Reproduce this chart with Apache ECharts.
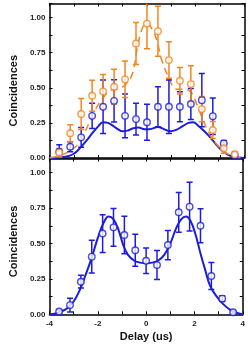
<!DOCTYPE html>
<html><head><meta charset="utf-8">
<script src="https://cdn.jsdelivr.net/npm/echarts@6/dist/echarts.min.js"></script>
<style>html,body{margin:0;padding:0;background:#fff}#c{width:248px;height:346px}</style>
</head><body><div id="c"></div>
<script>
// ---- data ----
const delays = [-3.6,-3.15,-2.7,-2.25,-1.8,-1.35,-0.9,-0.45,0,0.45,0.9,1.35,1.8,2.25,2.7,3.15,3.6];
const topOrange    = [0.038,0.176,0.313,0.443,0.474,0.507,0.56,0.815,0.957,0.903,0.697,0.55,0.526,0.348,0.199,0.069,0.026];
const topOrangeErr = [0.03,0.06,0.11,0.11,0.12,0.125,0.13,0.15,0.18,0.178,0.13,0.095,0.13,0.09,0.06,0.035,0.02];
const topBlue      = [0.045,0.08,0.147,0.30,0.365,0.407,0.30,0.277,0.254,0.365,0.365,0.365,0.384,0.412,0.298,0.104,0.02];
const topBlueErr   = [0.05,0.035,0.07,0.09,0.19,0.15,0.155,0.113,0.128,0.142,0.19,0.107,0.11,0.19,0.13,0.02,0.01];
const botBlue      = [0.02,0.065,0.23,0.407,0.57,0.614,0.56,0.452,0.378,0.348,0.489,0.72,0.76,0.625,0.27,0.111,0.014];
const botBlueErr   = [0.01,0.048,0.045,0.115,0.133,0.133,0.133,0.113,0.09,0.103,0.103,0.14,0.172,0.12,0.095,0.02,0.008];

const topBlueFitX = [-4,-3.5,-3.25,-3,-2.75,-2.5,-2.25,-2,-1.8,-1.6,-1.4,-1.2,-1,-0.8,-0.6,-0.35,-0.1,0.1,0.45,0.7,0.95,1.2,1.45,1.7,1.9,2.1,2.3,2.5,2.7,2.9,3.1,3.3,3.5,3.75,4];
const topBlueFitY = [0,0.005,0.012,0.03,0.07,0.12,0.175,0.225,0.255,0.25,0.23,0.205,0.19,0.195,0.21,0.218,0.205,0.205,0.22,0.205,0.19,0.2,0.225,0.25,0.255,0.23,0.2,0.165,0.125,0.085,0.05,0.025,0.01,0.003,0];
const topOrangeFitX = [-4,-3.5,-3,-2.7,-2.4,-2.1,-1.8,-1.5,-1.2,-0.9,-0.6,-0.4,-0.2,0,0.2,0.4,0.6,0.9,1.2,1.5,1.8,2.05,2.3,2.6,2.95,3.3,3.7,4];
const topOrangeFitY = [0,0.02,0.07,0.13,0.24,0.35,0.43,0.48,0.49,0.52,0.6,0.78,0.92,0.96,0.92,0.84,0.7,0.57,0.49,0.49,0.47,0.38,0.27,0.16,0.08,0.03,0.005,0];
const botFitX = [-4,-3.75,-3.5,-3.25,-3,-2.75,-2.5,-2.25,-2,-1.75,-1.55,-1.35,-1.15,-0.95,-0.75,-0.5,-0.25,0,0.25,0.5,0.75,1,1.25,1.45,1.65,1.85,2.05,2.25,2.45,2.65,2.9,3.2,3.5,3.8,4];
const botFitY = [0,0.005,0.02,0.045,0.09,0.17,0.28,0.40,0.54,0.65,0.69,0.67,0.6,0.49,0.42,0.38,0.365,0.36,0.365,0.38,0.42,0.5,0.61,0.67,0.69,0.655,0.56,0.43,0.31,0.2,0.13,0.07,0.03,0.008,0];

const xTickLabels = [-4,-2,0,2,4];
const yTickLabels = [0,0.25,0.5,0.75,1];

// ---- styling ----
const BLUE = '#1c1cdc', ORANGE = '#f5851f';
const FONT = 'Liberation Sans';
const pairs = (xs, ys) => xs.map((x, i) => [x, ys[i]]);
const errs = (xs, ys, es) => xs.map((x, i) => [x, ys[i] - es[i], ys[i] + es[i]]);

function errSeries(data, color, xi, yi) {
  return {
    type: 'custom', xAxisIndex: xi, yAxisIndex: yi, clip: true, z: 3,
    data: data,
    renderItem: function (params, api) {
      const x = api.value(0), lo = api.value(1), hi = api.value(2);
      const p1 = api.coord([x, lo]), p2 = api.coord([x, hi]);
      const w = 3;
      const st = { stroke: color, lineWidth: 1.5 };
      return { type: 'group', children: [
        { type: 'line', shape: { x1: p1[0], y1: p1[1], x2: p2[0], y2: p2[1] }, style: st },
        { type: 'line', shape: { x1: p1[0] - w, y1: p1[1], x2: p1[0] + w, y2: p1[1] }, style: st },
        { type: 'line', shape: { x1: p2[0] - w, y1: p2[1], x2: p2[0] + w, y2: p2[1] }, style: st }
      ]};
    }
  };
}
function ptSeries(data, color, xi, yi) {
  return { type: 'scatter', xAxisIndex: xi, yAxisIndex: yi, data: data, symbol: 'circle', symbolSize: 6.5, z: 4,
    itemStyle: { color: '#fff', borderColor: color, borderWidth: 1.4 } };
}
function fitSeries(data, color, xi, yi, dashed) {
  return { type: 'line', xAxisIndex: xi, yAxisIndex: yi, data: data, smooth: 0.4, showSymbol: false, z: 2,
    lineStyle: { color: color, width: dashed ? 1.5 : 2, type: dashed ? [7, 5] : 'solid' } };
}

const axLine = { show: true, onZero: false, lineStyle: { color: '#000', width: 1.5 } };
const axTick = { show: true, inside: true, length: 3, lineStyle: { color: '#000', width: 1 } };
const lblStyle = { fontSize: 8, fontWeight: 'bold', color: '#222', fontFamily: FONT, margin: 4 };

function xAx(grid, pos, labels) {
  return { type: 'value', gridIndex: grid, position: pos, min: -4, max: 4, interval: 1,
    axisLine: axLine, axisTick: axTick, splitLine: { show: false },
    axisLabel: labels ? Object.assign({}, lblStyle, { margin: 5,
      formatter: v => xTickLabels.indexOf(v) >= 0 ? String(v) : '' }) : { show: false },
    name: labels ? 'Delay (us)' : '', nameLocation: 'middle', nameGap: 17,
    nameTextStyle: { fontSize: 11, fontWeight: 'bold', color: '#111', fontFamily: FONT } };
}
function yAx(grid, pos, labels, shift) {
  return { type: 'value', gridIndex: grid, position: pos, min: 0, max: 1.1, interval: 0.125,
    axisLine: axLine, axisTick: axTick, splitLine: { show: false },
    axisLabel: labels ? Object.assign({}, lblStyle, {
      formatter: v => yTickLabels.some(t => Math.abs(t - v) < 1e-6) ? v.toFixed(2) : '' }) : { show: false },
    name: labels ? 'Coincidences' : '', nameLocation: 'middle', nameGap: 21,
    nameTextStyle: { fontSize: 11, fontWeight: 'bold', color: '#111', fontFamily: FONT, padding: [0, shift || 0, 0, 0] } };
}

const chart = echarts.init(document.getElementById('c'), null, { renderer: 'canvas' });
chart.setOption({
  animation: false,
  backgroundColor: '#fff',
  grid: [
    { left: 34, right: 3.5, top: 3.5, height: 154.5 },
    { left: 34, right: 3.5, top: 158.5, height: 155.8 }
  ],
  xAxis: [xAx(0, 'bottom', false), xAx(0, 'top', false), xAx(1, 'bottom', true), xAx(1, 'top', false)],
  yAxis: [yAx(0, 'left', true, 20), yAx(0, 'right', false), yAx(1, 'left', true, 10), yAx(1, 'right', false)],
  series: [
    fitSeries(pairs(topBlueFitX, topBlueFitY), BLUE, 0, 0, false),
    fitSeries(pairs(topOrangeFitX, topOrangeFitY), ORANGE, 0, 0, true),
    errSeries(errs(delays, topBlue, topBlueErr), BLUE, 0, 0),
    errSeries(errs(delays, topOrange, topOrangeErr), ORANGE, 0, 0),
    ptSeries(pairs(delays, topBlue), BLUE, 0, 0),
    ptSeries(pairs(delays, topOrange), ORANGE, 0, 0),
    fitSeries(pairs(botFitX, botFitY), BLUE, 2, 2, false),
    errSeries(errs(delays, botBlue, botBlueErr), BLUE, 2, 2),
    ptSeries(pairs(delays, botBlue), BLUE, 2, 2)
  ]
});
</script></body></html>
